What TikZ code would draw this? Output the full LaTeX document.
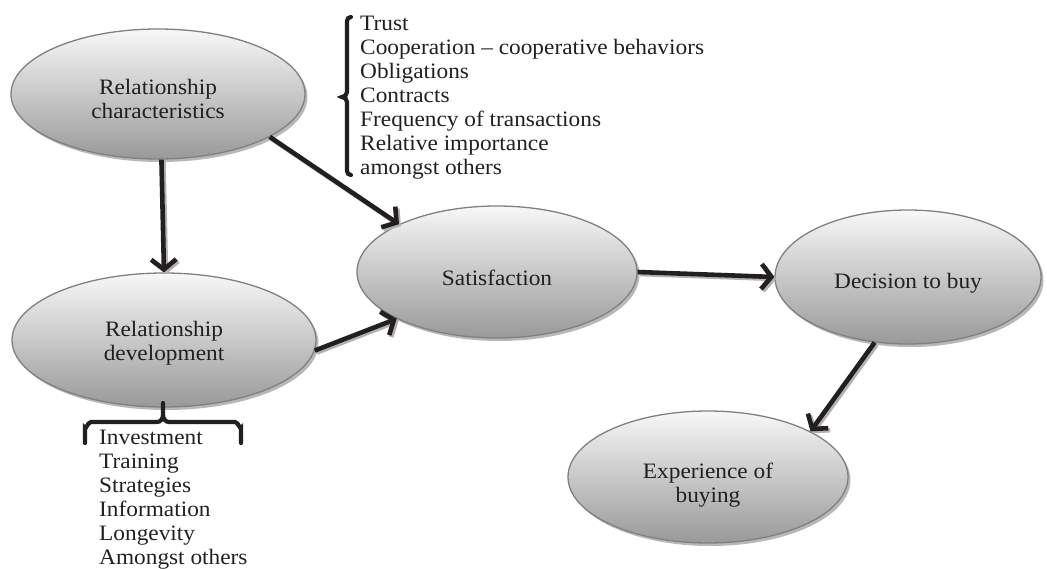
\documentclass[tikz,border=0pt]{standalone}
\usepackage{fontspec}
\setmainfont{Liberation Serif}[FakeStretch=1.06]
\usetikzlibrary{shapes.geometric,arrows.meta,shadows}
\definecolor{txt}{HTML}{231F20}
\begin{document}
\begin{tikzpicture}[x=1pt,y=-1pt,
  bub/.style={ellipse, draw=black!50, line width=1.3pt, top color=white!97!black, bottom color=black!40,
    drop shadow={shadow xshift=2.5pt, shadow yshift=-3pt, fill=black!28, opacity=1},
    inner sep=0pt, align=center, text=txt, text height=27pt, font=\fontsize{22}{24}\selectfont},
  arr/.style={line width=4.6pt, draw=txt, -{Straight Barb[length=10pt,width=25pt,line width=4.6pt]},
    preaction={draw=black!30, line width=4.6pt, transform canvas={xshift=2pt,yshift=-2pt}}},
  brc/.style={line width=4.2pt, draw=txt, line cap=round},
  lst/.style={align=left, anchor=north west, inner sep=0pt, text=txt, font=\fontsize{22}{24}\selectfont}]
\useasboundingbox (0,0) rectangle (1047,570);

\node[bub, text height=49pt, minimum width=294pt, minimum height=130pt] (rc) at (158,94) {Relationship\\characteristics};
\node[bub, text height=45pt, minimum width=304pt, minimum height=134pt] (rd) at (164,340) {Relationship\\development};
\node[bub, minimum width=280pt, minimum height=132pt] (sat) at (497,272) {Satisfaction};
\node[bub, minimum width=266pt, minimum height=134pt] (dec) at (908,277) {Decision to buy};
\node[bub, text height=56pt, minimum width=280pt, minimum height=132pt] (exp) at (708,477) {Experience of\\buying};

\draw[arr] (rc.-87) -- (rd.90);
\draw[arr] (rc.-21) -- (sat.154);
\draw[arr] (rd.-4) -- (sat.205);
\draw[arr] (sat.0) -- (dec.180);
\draw[arr] (dec.-117) -- (exp.24);

% right bracket and list
\draw[brc] (351,17) to[out=180,in=90] (347,21) -- (347,92) to[out=-90,in=0] (342,97)
  to[out=0,in=90] (347,102) -- (347,171) to[out=-90,in=180] (351,175);
\node[lst] (l1) at (360,16) {Trust\\Cooperation – cooperative behaviors\\Obligations\\Contracts\\Frequency of transactions\\Relative importance\\amongst others};

% bottom bracket and list
\draw[brc] (85,443) -- (85,428) to[out=-90,in=180] (91,422) -- (157,422) to[out=0,in=-90] (163,415) -- (163,403);
\draw[brc] (163,415) to[out=-90,in=180] (169,422) -- (235,422) to[out=0,in=-90] (241,428) -- (241,443);
\node[lst] (l2) at (99,430) {Investment\\Training\\Strategies\\Information\\Longevity\\Amongst others};
\end{tikzpicture}
\end{document}
